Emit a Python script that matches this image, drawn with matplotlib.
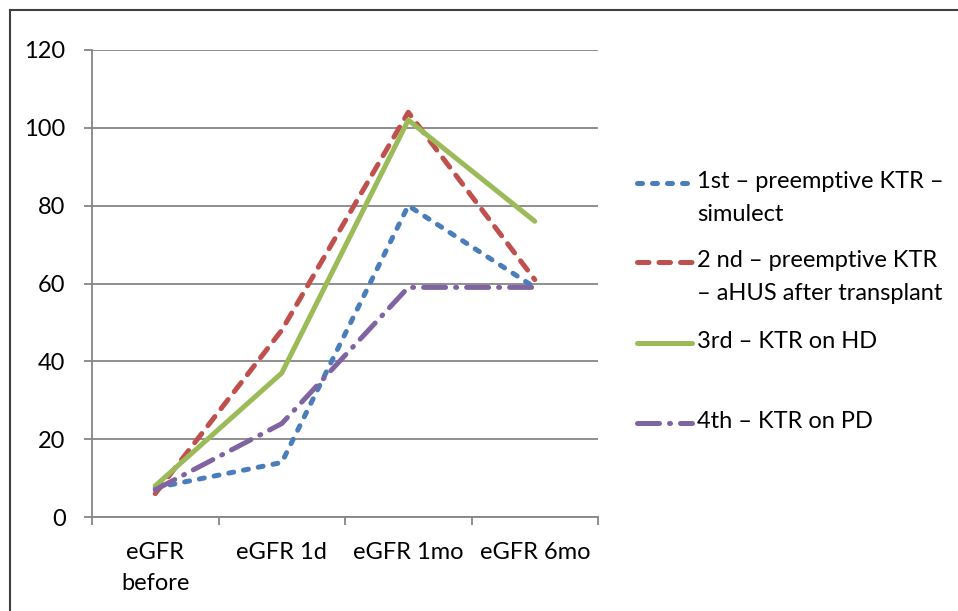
import numpy as np
import matplotlib.pyplot as plt
from matplotlib.lines import Line2D

# Data
categories = ['eGFR\nbefore', 'eGFR 1d', 'eGFR 1mo', 'eGFR 6mo']
first_pre = [7.5, 14, 80, 59]
second_pre = [6, 48, 104, 61]
third_hd = [8, 37, 102, 76]
fourth_pd = [7, 24, 59, 59]
labels = ['1st \u2013 preemptive KTR \u2013\nsimulect',
          '2 nd \u2013 preemptive KTR\n\u2013 aHUS after transplant',
          '3rd \u2013 KTR on HD',
          '4th \u2013 KTR on PD']

W, H = 958, 611
plt.rcParams['font.family'] = ['Lato', 'DejaVu Sans']
fig = plt.figure(figsize=(W / 100, H / 100), dpi=100)
ax = fig.add_axes([92 / W, 1 - 517 / H, (598 - 92) / W, (517 - 50) / H])

lw = 3.6
styles = [
    dict(color='#4A7EBB', dashes=(1.0, 2.0)),
    dict(color='#C0504D', dashes=(2.3, 2.0)),
    dict(color='#9BBB59'),
    dict(color='#8064A2', dashes=(4.4, 2.0, 0.2, 2.0)),
]
series = [first_pre, second_pre, third_hd, fourth_pd]

x = np.arange(len(categories))
for vals, st in zip(series, styles):
    ax.plot(x, vals, lw=lw, dash_capstyle='round', solid_capstyle='round',
            solid_joinstyle='round', zorder=3, **st)

grid_c = '#868686'
ax.set_xlim(-0.5, 3.5)
ax.set_ylim(0, 120)
ax.set_yticks(np.arange(0, 121, 20))
ax.yaxis.grid(True, color=grid_c, lw=1.3)
ax.set_axisbelow(True)
for s in ['top', 'right']:
    ax.spines[s].set_visible(False)
for s in ['left', 'bottom']:
    ax.spines[s].set_color(grid_c)
    ax.spines[s].set_linewidth(1.3)

ax.set_xticks(np.arange(-0.5, 3.6, 1))
ax.set_xticklabels([])
ax.set_xticks(x, minor=True)
ax.set_xticklabels(categories, minor=True, fontsize=17, linespacing=1.6)
ax.tick_params(axis='x', which='major', length=6, width=1.3, color=grid_c)
ax.tick_params(axis='x', which='minor', length=0, pad=18)
ax.tick_params(axis='y', length=6, width=1.3, color=grid_c, pad=13, labelsize=17)

# Legend drawn to the right of the plot
leg_y = [183, 262, 343, 423]
for lab, st, yy in zip(labels, styles, leg_y):
    fig.add_artist(Line2D([637 / W, 692 / W], [1 - yy / H, 1 - yy / H], lw=lw,
                          dash_capstyle='round', solid_capstyle='round',
                          transform=fig.transFigure, **st))
    fig.text(697 / W, 1 - (yy - 12) / H, lab, fontsize=17, va='top',
             ha='left', linespacing=1.7)

# Chart frame
fig.add_artist(Line2D([10 / W, 1], [1 - 10 / H, 1 - 10 / H], color='#404040', lw=1.5,
                      transform=fig.transFigure))
fig.add_artist(Line2D([10 / W, 10 / W], [0, 1 - 10 / H], color='#404040', lw=1.5,
                      transform=fig.transFigure))

fig.savefig('out.png', dpi=100)
